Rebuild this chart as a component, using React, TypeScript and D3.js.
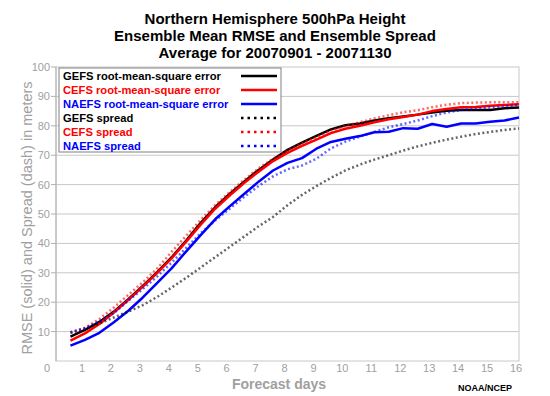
import React from 'react';
import * as d3 from 'd3';

// forecast lead time in days (every 12h)
const days = [0.5, 1, 1.5, 2, 2.5, 3, 3.5, 4, 4.5, 5, 5.5, 6, 6.5, 7, 7.5, 8,
  8.5, 9, 9.5, 10, 10.5, 11, 11.5, 12, 12.5, 13, 13.5, 14, 14.5, 15, 15.5, 16];

const gefsRmse = [8.3, 10.6, 13.3, 16.8, 21, 25.5, 30.2, 35.3, 41, 47, 52.3, 56.8, 61, 65, 68.5, 71.8,
  74.3, 76.6, 78.8, 80.2, 80.8, 81.8, 82.6, 83.2, 83.8, 84.5, 85.1, 85.4, 85.4, 85.4, 86, 86.2];
const cefsRmse = [6.9, 9.4, 12.6, 16.5, 20.8, 25.3, 30, 35, 40.6, 46.4, 51.8, 56.3, 60.5, 64.4, 68, 70.8,
  73.2, 75.3, 77.5, 79, 80, 81.2, 82.2, 83, 83.8, 85, 85.7, 86.3, 86.4, 86.8, 87.1, 87.3];
const naefsRmse = [5.2, 7.2, 9.6, 13.2, 17.1, 21.6, 26.6, 31.6, 37.3, 42.8, 48.2, 52.6, 56.8, 61, 64.8, 67.4,
  69, 72.2, 74.5, 75.6, 76.5, 77.8, 78, 79.2, 79, 80.6, 79.7, 80.8, 80.8, 81.4, 81.8, 82.8];
const gefsSpread = [9.5, 11, 12.8, 14.8, 16.8, 19, 21.8, 25, 28.3, 31.8, 35.3, 38.8, 42.3, 45.8, 49, 53,
  56.5, 59.5, 62.3, 64.8, 66.8, 68.5, 70, 71.6, 73, 74.2, 75.3, 76.3, 77.2, 77.9, 78.6, 79.1];
const cefsSpread = [9.8, 11.2, 14.3, 18.2, 22.5, 26.8, 31.5, 37.2, 42.6, 48, 53, 57.4, 61.6, 65.5, 68.8, 71.7,
  74, 76.2, 78.3, 80, 81.2, 82.5, 83.6, 84.6, 85.3, 86.3, 87.2, 87.7, 87.9, 88, 88, 88];
const naefsSpread = [9.8, 11.2, 13.5, 16.3, 20.5, 24.5, 28.8, 33.5, 38.5, 43.5, 47.8, 51.8, 55.8, 59.5, 62.8, 65.2,
  66.5, 68.8, 72.3, 74.6, 76.3, 77.9, 79.5, 80.6, 81.8, 83.3, 84.5, 85.4, 85.8, 86.2, 86.6, 87.1];

const xTicks = [1, 2, 3, 4, 5, 6, 7, 8, 9, 10, 11, 12, 13, 14, 15, 16];
const yTicks = [10, 20, 30, 40, 50, 60, 70, 80, 90, 100];

const titleLines = [
  'Northern Hemisphere 500hPa Height',
  'Ensemble Mean RMSE and Ensemble Spread',
  'Average for 20070901 - 20071130',
];

const series = [
  { name: 'GEFS root-mean-square error', color: '#000000', values: gefsRmse, dotted: false },
  { name: 'CEFS root-mean-square error', color: '#ff0000', values: cefsRmse, dotted: false },
  { name: 'NAEFS root-mean-square error', color: '#0000ff', values: naefsRmse, dotted: false },
  { name: 'GEFS spread', color: '#000000', values: gefsSpread, dotted: true },
  { name: 'CEFS spread', color: '#ff0000', values: cefsSpread, dotted: true },
  { name: 'NAEFS spread', color: '#0000ff', values: naefsSpread, dotted: true },
];

const font = '"Liberation Sans", Arial, sans-serif';
const grey = '#a0a0a0';

export default function App() {
  const width = 550;
  const height = 396;
  const margin = { top: 67, right: 31, bottom: 35, left: 56 };

  const x = d3.scaleLinear().domain([0, 16]).range([margin.left, width - margin.right]);
  const y = d3.scaleLinear().domain([0, 100]).range([height - margin.bottom, margin.top]);

  const line = d3.line<number>()
    .x((_, i) => x(days[i]))
    .y(d => y(d));

  const x0 = x(0), x1 = x(16), y0 = y(0), y1 = y(100);

  return (
    <svg width={width} height={height} style={{ position: 'absolute', left: 0, top: 0, background: '#fff' }}
      fontFamily={font}>
      {/* title */}
      {titleLines.map((t, i) => (
        <text key={t} x={275} y={24 + i * 17} textAnchor="middle" fontSize={15} fontWeight="bold">{t}</text>
      ))}

      {/* grid */}
      {yTicks.slice(0, -1).map(t => (
        <line key={t} x1={x0} x2={x1} y1={y(t)} y2={y(t)} stroke="#c8c8c8" />
      ))}
      <rect x={x0} y={y1} width={x1 - x0} height={y0 - y1} fill="none" stroke="#c8c8c8" />
      <line x1={x0} x2={x0} y1={y1} y2={y0} stroke="#b0b0b0" />

      {/* y ticks */}
      {yTicks.map(t => (
        <g key={t}>
          <line x1={x0 - 5} x2={x0} y1={y(t)} y2={y(t)} stroke="#b0b0b0" />
          <text x={x0 - 6} y={y(t) + 4} textAnchor="end" fontSize={11} fill={grey}>{t}</text>
        </g>
      ))}
      <text x={x0 - 6} y={y0 + 11} textAnchor="end" fontSize={11} fill={grey}>0</text>

      {/* x ticks */}
      {xTicks.map(t => (
        <text key={t} x={x(t) - 3} y={y0 + 11} textAnchor="middle" fontSize={11} fill={grey}>{t}</text>
      ))}

      {/* series */}
      {series.map(s => (
        <path key={s.name} d={line(s.values) ?? ''} fill="none" stroke={s.color}
          strokeWidth={2.5}
          strokeDasharray={s.dotted ? '2,2.5' : undefined}
          strokeOpacity={s.dotted ? 0.6 : 1}
          strokeLinejoin="round" />
      ))}

      {/* legend */}
      <rect x={59} y={68} width={222} height={84} fill="#fff" stroke="#808080" />
      {series.map((s, i) => (
        <g key={s.name}>
          <text x={63} y={80 + i * 14} fontSize={11.2} fontWeight="bold" fill={s.color}>{s.name}</text>
          <line x1={241} x2={277} y1={76 + i * 14} y2={76 + i * 14} stroke={s.color}
            strokeWidth={2.5} strokeDasharray={s.dotted ? '2.5,4' : undefined} />
        </g>
      ))}

      {/* axis titles */}
      <text x={279} y={389} textAnchor="middle" fontSize={14} fontWeight="bold" fill={grey}>Forecast days</text>
      <text transform="translate(32,218) rotate(-90)" textAnchor="middle" fontSize={14.5} fill={grey}>
        RMSE (solid) and Spread (dash) in meters
      </text>
      <text x={512} y={391} textAnchor="end" fontSize={9} fontWeight="bold">NOAA/NCEP</text>
    </svg>
  );
}
